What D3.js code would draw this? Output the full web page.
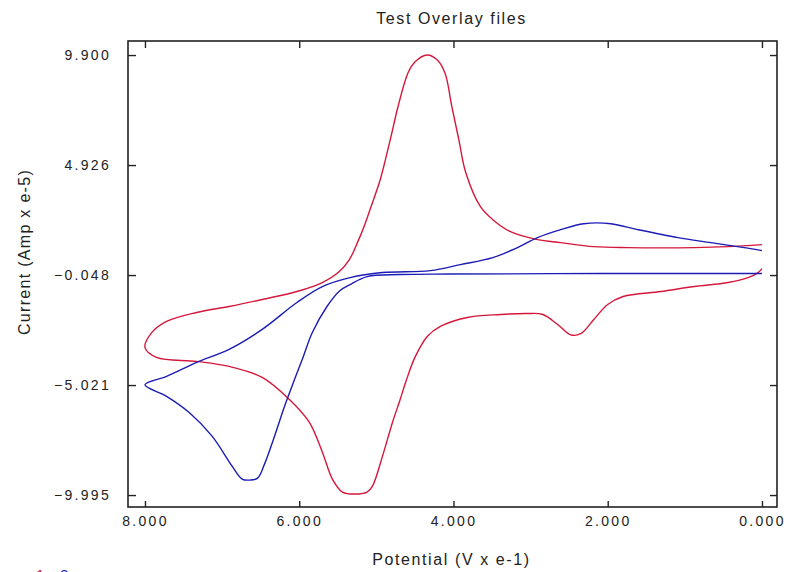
<!DOCTYPE html>
<html>
<head>
<meta charset="utf-8">
<script src="https://cdn.jsdelivr.net/npm/d3@7"></script>
<style>
  html, body { margin: 0; padding: 0; background: #ffffff; }
  svg { display: block; }
  text { font-family: "Liberation Sans", Arial, sans-serif; fill: #222; }
</style>
</head>
<body>
<svg id="chart" width="786" height="572"></svg>
<script>
// ---- data ----
const title = "Test Overlay files";
const xLabel = "Potential (V x e-1)";
const yLabel = "Current (Amp x e-5)";
const xTicks = [8.000, 6.000, 4.000, 2.000, 0.000];
const yTicks = [9.900, 4.926, -0.048, -5.021, -9.995];
const seriesNames = ["1", "2"];

// series 1 (red)
const redX = [0.00, 0.05, 0.18, 0.44, 0.88, 1.31, 1.80, 2.00, 2.18, 2.35, 2.48, 2.65, 2.84, 3.04, 3.39, 3.82, 4.17, 4.34, 4.50, 4.62,
              4.69, 4.79, 4.92, 5.05, 5.12, 5.28, 5.44, 5.57, 5.70, 5.87, 6.13, 6.48, 6.91, 7.33, 7.85, 8.00, 7.91, 7.72, 7.33, 6.91,
              6.48, 6.03, 5.70, 5.48, 5.35, 5.24, 5.15, 5.06, 4.95, 4.82, 4.72, 4.59, 4.50, 4.34, 4.21, 4.11, 4.02, 3.93, 3.84, 3.65,
              3.49, 3.26, 2.91, 2.61, 2.18, 1.74, 0.88, 0.44, 0.00];
const redY = [0.245, 0.065, -0.161, -0.386, -0.567, -0.792, -1.018, -1.379, -2.055, -2.700, -2.750, -2.281, -1.830, -1.785, -1.830, -1.965, -2.371, -2.822, -3.770, -4.897,
              -5.664, -6.702, -8.235, -9.589, -9.859, -9.950, -9.859, -9.273, -8.055, -6.702, -5.664, -4.672, -4.176, -3.950, -3.770, -3.318, -2.642, -2.146, -1.740, -1.469,
              -1.153, -0.792, -0.386, 0.110, 0.651, 1.463, 2.230, 3.132, 4.260, 6.064, 7.553, 9.087, 9.583, 9.900, 9.673, 9.087, 7.553, 6.064, 4.576, 3.042,
              2.456, 1.914, 1.553, 1.418, 1.238, 1.193, 1.193, 1.238, 1.328];

// series 2 (blue)
const blueX = [0.00, 2.09, 4.04, 4.69, 5.12, 5.34, 5.47, 5.64, 5.83, 5.96, 6.06, 6.19, 6.32, 6.45, 6.54, 6.64, 6.74, 6.87, 7.13, 7.43,
               7.72, 8.00, 7.72, 7.33, 6.91, 6.48, 6.03, 5.70, 5.34, 4.92, 4.30, 3.91, 3.49, 3.17, 2.91, 2.61, 2.31, 1.96, 1.61, 1.09,
               0.66, 0.23, 0.00];
const blueY = [0.020, 0.020, -0.003, -0.025, -0.116, -0.477, -0.747, -1.469, -2.642, -3.860, -4.762, -5.980, -7.333, -8.596, -9.228, -9.318, -9.273, -8.687, -7.333, -6.251,
               -5.529, -5.010, -4.627, -3.995, -3.409, -2.506, -1.289, -0.567, -0.161, 0.065, 0.155, 0.426, 0.741, 1.193, 1.644, 2.005, 2.275, 2.275, 2.005, 1.644,
               1.418, 1.193, 1.057];

const colors = ["#d4183c", "#1c1cb4"];

// ---- layout ----
const svg = d3.select("#chart");
const plot = { left: 128, right: 777, top: 41, bottom: 507 };

const x = d3.scaleLinear().domain([8.22, -0.195]).range([plot.left, plot.right]);
const y = d3.scaleLinear().domain([-10.535, 10.535]).range([plot.bottom, plot.top]);

const fmt = d3.format(".3f");

// bottom axis
const gx = svg.append("g").attr("transform", `translate(0,${plot.bottom})`)
  .call(d3.axisBottom(x).tickValues(xTicks).tickFormat(fmt).tickSizeInner(-6).tickSizeOuter(0).tickPadding(9));
// top axis (ticks only)
const gxt = svg.append("g").attr("transform", `translate(0,${plot.top})`)
  .call(d3.axisTop(x).tickValues(xTicks).tickFormat("").tickSizeInner(-7).tickSizeOuter(0));
// left axis
const gy = svg.append("g").attr("transform", `translate(${plot.left},0)`)
  .call(d3.axisLeft(y).tickValues(yTicks).tickFormat(fmt).tickSizeInner(-8).tickSizeOuter(0).tickPadding(17));
// right axis (ticks only)
const gyr = svg.append("g").attr("transform", `translate(${plot.right},0)`)
  .call(d3.axisRight(y).tickValues(yTicks).tickFormat("").tickSizeInner(-7).tickSizeOuter(0));

[gx, gxt, gy, gyr].forEach(g => {
  g.select(".domain").remove();
  g.selectAll(".tick line").attr("stroke", "#222").attr("stroke-width", 1.4);
  g.selectAll(".tick text")
    .style("font-family", '"Liberation Sans", Arial, sans-serif')
    .style("font-size", "14px")
    .style("letter-spacing", "2.3px")
    .attr("fill", "#222");
});

// frame
svg.append("rect")
  .attr("x", plot.left).attr("y", plot.top)
  .attr("width", plot.right - plot.left).attr("height", plot.bottom - plot.top)
  .attr("fill", "none").attr("stroke", "#222").attr("stroke-width", 1.6);

// curves
svg.append("clipPath").attr("id", "clip").append("rect")
  .attr("x", plot.left).attr("y", plot.top)
  .attr("width", plot.right - plot.left).attr("height", plot.bottom - plot.top);

const line = d3.line().x(d => x(d[0])).y(d => y(d[1])).curve(d3.curveCatmullRom.alpha(0.5));
const series = [
  d3.zip(redX, redY),
  d3.zip(blueX, blueY)
];
series.forEach((pts, i) => {
  svg.append("path")
    .attr("clip-path", "url(#clip)")
    .attr("d", line(pts))
    .attr("fill", "none")
    .attr("stroke", colors[i])
    .attr("stroke-width", 1.4)
    .attr("stroke-linejoin", "round");
});

// title
svg.append("text")
  .attr("x", (plot.left + plot.right) / 2 - 1).attr("y", 24)
  .attr("text-anchor", "middle")
  .style("font-size", "16px").style("letter-spacing", "1.6px")
  .text(title);

// x label
svg.append("text")
  .attr("x", (plot.left + plot.right) / 2 - 1).attr("y", 565)
  .attr("text-anchor", "middle")
  .style("font-size", "16px").style("letter-spacing", "1.6px")
  .text(xLabel);

// y label
svg.append("text")
  .attr("transform", `translate(30,252) rotate(-90)`)
  .attr("text-anchor", "middle")
  .style("font-size", "16px").style("letter-spacing", "1.3px")
  .text(yLabel);

// legend (partially cut at the bottom edge, as in the original)
const legendX = [36, 60];
seriesNames.forEach((s, i) => {
  svg.append("text")
    .attr("x", legendX[i]).attr("y", 580)
    .style("font-size", "15px")
    .style("fill", colors[i])
    .text(s);
});
</script>
</body>
</html>
